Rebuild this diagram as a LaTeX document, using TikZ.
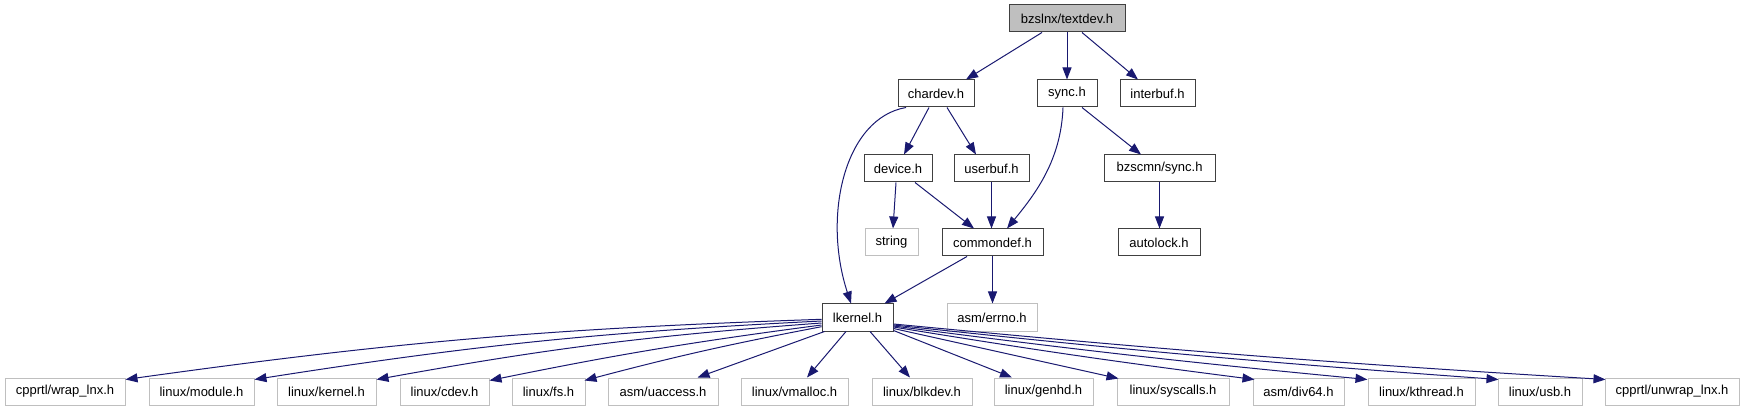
\documentclass[tikz,border=0pt]{standalone}
\usepackage{fontspec}
\setmainfont{Liberation Sans}
\usetikzlibrary{arrows.meta}
\definecolor{edgec}{HTML}{191970}
\definecolor{greyseventyfive}{HTML}{BFBFBF}
\definecolor{docborder}{HTML}{404040}
\begin{document}
\begin{tikzpicture}[x=1pt,y=-1pt,
  font=\fontsize{13}{15}\selectfont,
  nbox/.style={rectangle, inner sep=0pt, minimum height=27pt, anchor=center},
  docbox/.style={nbox, draw=docborder, line width=1pt},
  extbox/.style={nbox, draw=greyseventyfive, line width=1pt},
  rootbox/.style={docbox, fill=greyseventyfive},
  edge/.style={draw=edgec, line width=1pt, -{Triangle[length=12pt,width=9pt]}}
]
\useasboundingbox (0,0) rectangle (1744,411);

% row 0
\node[rootbox, minimum width=116pt] (root) at (1067,18.5) {bzslnx/textdev.h};
% row 1
\node[docbox, minimum width=76pt] (chardev) at (936,93.5) {chardev.h};
\node[docbox, minimum width=60pt] (sync) at (1067,93.5) {sync.h};
\node[docbox, minimum width=75pt] (interbuf) at (1157.5,93.5) {interbuf.h};
% row 2
\node[docbox, minimum width=68pt] (device) at (898,168.5) {device.h};
\node[docbox, minimum width=75pt] (userbuf) at (991.5,168.5) {userbuf.h};
\node[docbox, minimum width=111pt] (cmnsync) at (1159.5,168.5) {bzscmn/sync.h};
% row 3
\node[extbox, minimum width=53pt] (string) at (891.5,242.5) {string};
\node[docbox, minimum width=101pt] (commondef) at (992.5,242.5) {commondef.h};
\node[docbox, minimum width=82pt] (autolock) at (1159,242.5) {autolock.h};
% row 4
\node[docbox, minimum width=71pt] (lkernel) at (857.5,317.5) {lkernel.h};
\node[extbox, minimum width=90pt] (errno) at (992,317.5) {asm/errno.h};
% row 5
\node[extbox, minimum width=120pt] (wrap) at (65,391.5) {cpprtl/wrap\_lnx.h};
\node[extbox, minimum width=105pt] (module) at (201.5,391.5) {linux/module.h};
\node[extbox, minimum width=99pt] (kernel) at (326.5,391.5) {linux/kernel.h};
\node[extbox, minimum width=89pt] (cdev) at (444.5,391.5) {linux/cdev.h};
\node[extbox, minimum width=73pt] (fs) at (548.5,391.5) {linux/fs.h};
\node[extbox, minimum width=110pt] (uaccess) at (663,391.5) {asm/uaccess.h};
\node[extbox, minimum width=107pt] (vmalloc) at (794.5,391.5) {linux/vmalloc.h};
\node[extbox, minimum width=100pt] (blkdev) at (922,391.5) {linux/blkdev.h};
\node[extbox, minimum width=99pt] (genhd) at (1043.5,391.5) {linux/genhd.h};
\node[extbox, minimum width=112pt] (syscalls) at (1173,391.5) {linux/syscalls.h};
\node[extbox, minimum width=91pt] (div64) at (1298.5,391.5) {asm/div64.h};
\node[extbox, minimum width=107pt] (kthread) at (1421.5,391.5) {linux/kthread.h};
\node[extbox, minimum width=84pt] (usb) at (1540,391.5) {linux/usb.h};
\node[extbox, minimum width=134pt] (unwrap) at (1672,391.5) {cpprtl/unwrap\_lnx.h};

% edges, upper part
\draw[edge] ([shift={(-25,0)}]root.south) -- ([shift={(30,0)}]chardev.north);
\draw[edge] (root.south) -- (sync.north);
\draw[edge] ([shift={(15,0)}]root.south) -- ([shift={(-19.5,0)}]interbuf.north);
\draw[edge] ([shift={(-7,0)}]chardev.south) -- ([shift={(6,0)}]device.north);
\draw[edge] ([shift={(11,0)}]chardev.south) -- ([shift={(-15.5,0)}]userbuf.north);
\draw[edge] ([shift={(-30,0)}]chardev.south) .. controls (845,118) and (822,215) .. ([shift={(-6.5,0)}]lkernel.north);
\draw[edge] ([shift={(-4,0)}]sync.south) .. controls (1061,160) and (1036,193) .. ([shift={(14.5,0)}]commondef.north);
\draw[edge] ([shift={(15,0)}]sync.south) -- ([shift={(-18.5,0)}]cmnsync.north);
\draw[edge] ([shift={(-2,0)}]device.south) -- ([shift={(1.5,0)}]string.north);
\draw[edge] ([shift={(17,0)}]device.south) -- ([shift={(-18.5,0)}]commondef.north);
\draw[edge] (userbuf.south) -- (userbuf.south |- commondef.north);
\draw[edge] (cmnsync.south) -- (cmnsync.south |- autolock.north);
\draw[edge] ([shift={(-25.5,0)}]commondef.south) -- ([shift={(27,0)}]lkernel.north);
\draw[edge] (commondef.south) -- (commondef.south |- errno.north);

% edges from lkernel, left side
\draw[edge] ([shift={(0,1.8)}]lkernel.west) to[bend right=3] ([shift={(0,2)}]wrap.north east);
\draw[edge] ([shift={(0,3.5)}]lkernel.west) to[bend right=3] ([shift={(0,2)}]module.north east);
\draw[edge] ([shift={(0,5.5)}]lkernel.west) to[bend right=3] ([shift={(0,2)}]kernel.north east);
\draw[edge] ([shift={(0,7.5)}]lkernel.west) to[bend right=2] ([shift={(0,3)}]cdev.north east);
\draw[edge] ([shift={(0,9.2)}]lkernel.west) to[bend right=2] ([shift={(-1,3)}]fs.north east);
\draw[edge] ([shift={(3,0)}]lkernel.south west) -- ([shift={(-21,0)}]uaccess.north east);
\draw[edge] ([shift={(-11.5,0)}]lkernel.south) -- ([shift={(12.5,0)}]vmalloc.north);
\draw[edge] ([shift={(12.5,0)}]lkernel.south) -- ([shift={(-12,0)}]blkdev.north);
% right side
\draw[edge] ([shift={(0,-1)}]lkernel.south east) -- ([shift={(-31.5,0)}]genhd.north);
\draw[edge] ([shift={(0,-3)}]lkernel.south east) -- ([shift={(2,1)}]syscalls.north west);
\draw[edge] ([shift={(0,-4.5)}]lkernel.south east) to[bend right=1] ([shift={(2,2)}]div64.north west);
\draw[edge] ([shift={(0,-5.5)}]lkernel.south east) to[bend right=1] ([shift={(0,2)}]kthread.north west);
\draw[edge] ([shift={(0,-6.5)}]lkernel.south east) to[bend right=1] ([shift={(1,2)}]usb.north west);
\draw[edge] ([shift={(0,-7.5)}]lkernel.south east) to[bend right=1] ([shift={(1,2)}]unwrap.north west);
\end{tikzpicture}
\end{document}
